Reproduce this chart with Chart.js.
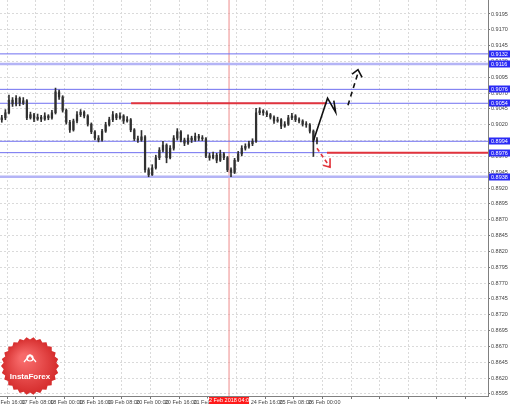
<!DOCTYPE html>
<html><head><meta charset="utf-8">
<script src="https://cdn.jsdelivr.net/npm/chart.js@4"></script>
<style>html,body{margin:0;padding:0;background:#fff;}#wrap{width:510px;height:404px;position:relative;}</style>
</head><body><div id="wrap"><canvas id="c"></canvas></div>
<script>
// ---- data (2-hour bars) ----
const openP = [0.9028,0.9031,0.9039,0.9059,0.9053,0.9062,0.9054,0.9058,0.9031,0.9036,
 0.9029,0.9032,0.9029,0.9034,0.9031,0.9039,0.9072,0.9064,0.9043,0.9024,
 0.9012,0.9026,0.9036,0.9040,0.9034,0.9021,0.9009,0.8999,0.8996,0.9010,
 0.9020,0.9028,0.9036,0.9031,0.9034,0.9026,0.9028,0.9012,0.8998,0.8996,
 0.9001,0.8949,0.8941,0.8952,0.8968,0.8980,0.8988,0.8968,0.8983,0.8999,
 0.9009,0.8996,0.8991,0.8999,0.8996,0.9002,0.8999,0.8998,0.8971,0.8968,
 0.8972,0.8964,0.8974,0.8968,0.8949,0.8945,0.8964,0.8974,0.8983,0.8986,
 0.8990,0.8994,0.9039,0.9042,0.9039,0.9036,0.9032,0.9026,0.9028,0.9018,
 0.9021,0.9031,0.9034,0.9028,0.9026,0.9021,0.9020,0.9010,0.8996];
const highP = [0.9035,0.9044,0.9067,0.9063,0.9066,0.9064,0.9063,0.9060,0.9040,0.9038,
 0.9037,0.9035,0.9039,0.9036,0.9043,0.9078,0.9075,0.9066,0.9045,0.9027,
 0.9029,0.9041,0.9044,0.9042,0.9036,0.9023,0.9011,0.9003,0.9013,0.9024,
 0.9032,0.9041,0.9038,0.9039,0.9036,0.9033,0.9030,0.9014,0.9002,0.9011,
 0.9003,0.8952,0.8957,0.8972,0.8984,0.8994,0.8990,0.8987,0.9003,0.9014,
 0.9011,0.8999,0.9004,0.9002,0.9007,0.9005,0.9003,0.9000,0.8975,0.8977,
 0.8975,0.8980,0.8976,0.8970,0.8952,0.8967,0.8978,0.8987,0.8990,0.8994,
 0.8998,0.9046,0.9047,0.9044,0.9042,0.9038,0.9034,0.9032,0.9030,0.9025,
 0.9035,0.9038,0.9036,0.9031,0.9028,0.9025,0.9022,0.9012,0.9000];
const lowP = [0.9024,0.9028,0.9037,0.9049,0.9050,0.9050,0.9052,0.9028,0.9029,0.9025,
 0.9027,0.9025,0.9027,0.9028,0.9029,0.9037,0.9060,0.9040,0.9021,0.9008,
 0.9010,0.9023,0.9033,0.9031,0.9018,0.9006,0.8996,0.8993,0.8994,0.9008,
 0.9018,0.9025,0.9028,0.9029,0.9022,0.9024,0.9009,0.8995,0.8992,0.8994,
 0.8945,0.8938,0.8940,0.8950,0.8965,0.8977,0.8960,0.8966,0.8980,0.8996,
 0.8993,0.8987,0.8989,0.8992,0.8994,0.8995,0.8995,0.8968,0.8964,0.8966,
 0.8960,0.8962,0.8965,0.8946,0.8938,0.8943,0.8962,0.8971,0.8980,0.8983,
 0.8987,0.8992,0.9036,0.9035,0.9033,0.9029,0.9022,0.9024,0.9014,0.9016,
 0.9019,0.9028,0.9025,0.9023,0.9018,0.9016,0.9007,0.8970,0.8990];
const closeP = [0.9031,0.9039,0.9059,0.9053,0.9062,0.9054,0.9058,0.9031,0.9036,0.9029,
 0.9032,0.9029,0.9034,0.9031,0.9039,0.9072,0.9064,0.9043,0.9024,0.9012,
 0.9026,0.9036,0.9040,0.9034,0.9021,0.9009,0.8999,0.8996,0.9010,0.9020,
 0.9028,0.9036,0.9031,0.9034,0.9026,0.9028,0.9012,0.8998,0.8996,0.9001,
 0.8949,0.8941,0.8952,0.8968,0.8980,0.8988,0.8968,0.8983,0.8999,0.9009,
 0.8996,0.8991,0.8999,0.8996,0.9002,0.8999,0.8998,0.8971,0.8968,0.8972,
 0.8964,0.8974,0.8968,0.8949,0.8945,0.8964,0.8974,0.8983,0.8986,0.8990,
 0.8994,0.9039,0.9042,0.9039,0.9036,0.9032,0.9026,0.9028,0.9018,0.9021,
 0.9031,0.9034,0.9028,0.9026,0.9021,0.9020,0.9010,0.8996,0.8994];
const barHours = 2;           // each bar covers 2 hours
const axisHours = [0, 272.5]; // visible time window (hours)

const xTickHours  = [-4,12,28,44,60,76,92,108,124,140,156,172,188,204,220,236,252,268];
const xTickLabels = ['16 Feb 16:00','17 Feb 08:00','18 Feb 00:00','18 Feb 16:00','19 Feb 08:00',
  '20 Feb 00:00','20 Feb 16:00','21 Feb 08:00','','24 Feb 16:00','25 Feb 08:00','26 Feb 00:00',
  '','','','','',''];
const cursorHour = 127.9;
const cursorLabel = '22 Feb 2018 04:00';

const yTickValues = [0.9195,0.9170,0.9145,0.9120,0.9095,0.9070,0.9045,0.9020,0.8995,0.8970,
  0.8945,0.8920,0.8895,0.8870,0.8845,0.8820,0.8795,0.8770,0.8745,0.8720,0.8695,0.8670,0.8645,0.8620,0.8595];
const yTickLabels = ['0.9195','0.9170','0.9145','0.9120','0.9095','0.9070','0.9045','0.9020','0.8995','0.8970',
  '0.8945','0.8920','0.8895','0.8870','0.8845','0.8820','0.8795','0.8770','0.8745','0.8720','0.8695','0.8670','0.8645','0.8620','0.8595'];
const yRange = [0.85917, 0.92171];

const blueLevels = [0.9132, 0.9076, 0.9054, 0.8994, 0.8976];
const blueWideLevels = [0.9116, 0.8938];
const levelTags = ['0.9132','0.9116','0.9076','0.9054','0.8994','0.8976','0.8938'];
const levelTagValues = [0.9132, 0.9116, 0.9076, 0.9054, 0.8994, 0.8976, 0.8938];

const redLevelA = {price: 0.9054, from: 73.2, to: 182.6};
const redLevelB = {price: 0.8976, from: 182.6, to: 272.5};

const bullPathX = [174.8, 182.9, 187.4, 186.4];
const bullPathY = [0.8993, 0.9062, 0.9040, 0.9058];
const bullDashX = [194.3, 199.9];
const bullDashY = [0.9051, 0.9102];
const bullHeadX = [196.6, 199.9, 202.2];
const bullHeadY = [0.9100, 0.9107, 0.9095];
const bearDashX = [177.0, 184.3];
const bearDashY = [0.8983, 0.8953];
const bearHeadX = [180.4, 184.3, 184.3];
const bearHeadY = [0.8956, 0.8953, 0.8967];

// ---- build datasets ----
const wickData = lowP.map((l,i)=>({x: i*barHours+1, y:[l, highP[i]]}));
const bodyData = openP.map((o,i)=>({x: i*barHours+1, y:[o, closeP[i]]}));
const pts = (xs, ys) => xs.map((x,i)=>({x, y: ys[i]}));
const hLine = (p, a, b) => [{x:a, y:p},{x:b, y:p}];

const lineBase = {type:'line', pointRadius:0, fill:false, tension:0, borderCapStyle:'butt'};
const datasets = [
  {type:'bar', data: wickData, backgroundColor:'#303030', barThickness:1, grouped:false, order:1, minBarLength:1},
  {type:'bar', data: bodyData, backgroundColor:'#3a3a3a', barThickness:1.6, grouped:false, order:1, minBarLength:1},
];
blueLevels.forEach(p=>datasets.push({...lineBase, data: hLine(p, axisHours[0], axisHours[1]), borderColor:'#6f6ff0', borderWidth:1, order:5}));
blueWideLevels.forEach(p=>datasets.push({...lineBase, data: hLine(p, axisHours[0], axisHours[1]), borderColor:'#b4b4f6', borderWidth:2.5, order:5}));
datasets.push({...lineBase, data: hLine(redLevelA.price, redLevelA.from, redLevelA.to), borderColor:'#e2343c', borderWidth:2, order:4});
datasets.push({...lineBase, data: hLine(redLevelB.price, redLevelB.from, redLevelB.to), borderColor:'#e2343c', borderWidth:2, order:4});
datasets.push({...lineBase, data: [{x:cursorHour,y:yRange[0]},{x:cursorHour,y:yRange[1]}], borderColor:'#ee8c8c', borderWidth:1, order:6});
datasets.push({...lineBase, data: pts(bullPathX,bullPathY), borderColor:'#111', borderWidth:1.6, order:0});
datasets.push({...lineBase, data: pts(bullDashX,bullDashY), borderColor:'#111', borderWidth:1.6, borderDash:[5,4], order:0});
datasets.push({...lineBase, data: pts(bullHeadX,bullHeadY), borderColor:'#111', borderWidth:1.6, order:0});
datasets.push({...lineBase, data: pts(bearDashX,bearDashY), borderColor:'#e2343c', borderWidth:1.6, borderDash:[4,3], order:0});
datasets.push({...lineBase, data: pts(bearHeadX,bearHeadY), borderColor:'#e2343c', borderWidth:1.6, order:0});

const FONT = 'Liberation Sans';

const overlay = {
  id:'overlay',
  afterDraw(chart){
    const ctx = chart.ctx, y = chart.scales.y, x = chart.scales.x, area = chart.chartArea;
    ctx.save();
    // level tags on price axis
    ctx.font = '5.5px "'+FONT+'"';
    ctx.textBaseline = 'middle';
    ctx.textAlign = 'left';
    levelTagValues.forEach((v,i)=>{
      const py = y.getPixelForValue(v);
      ctx.fillStyle = '#2a2af5';
      ctx.fillRect(area.right+1, Math.round(py)-3.5, 21, 7);
      ctx.fillStyle = '#ffffff';
      ctx.fillText(levelTags[i], area.right+3, py+0.5);
    });
    // cursor date box
    const cx = x.getPixelForValue(cursorHour);
    ctx.fillStyle = '#ff1a1a';
    ctx.fillRect(cx-20, area.bottom+1, 40, 7);
    ctx.fillStyle = '#ffffff';
    ctx.textAlign = 'center';
    ctx.fillText(cursorLabel, cx, area.bottom+4.5);
    // logo
    const lx = 30, ly = 366, R = 29, r = 26.5, n = 26;
    ctx.beginPath();
    for (let k=0;k<n*2;k++){
      const a = Math.PI*k/n, rr = k%2? r : R;
      const px = lx + rr*Math.cos(a), py2 = ly + rr*Math.sin(a);
      k? ctx.lineTo(px,py2) : ctx.moveTo(px,py2);
    }
    ctx.closePath();
    const g = ctx.createRadialGradient(lx-6, ly-8, 4, lx, ly, R);
    g.addColorStop(0,'#f76a6a'); g.addColorStop(1,'#d42a2a');
    ctx.fillStyle = g;
    ctx.fill();
    // icon
    ctx.strokeStyle = '#ffffff'; ctx.fillStyle = '#ffffff'; ctx.lineWidth = 1.2;
    ctx.beginPath(); ctx.arc(lx, ly-8, 3, 0, Math.PI*2); ctx.stroke();
    ctx.beginPath(); ctx.moveTo(lx-6, ly-4); ctx.lineTo(lx, ly-11); ctx.lineTo(lx+6, ly-4); ctx.stroke();
    ctx.font = 'bold 8px "'+FONT+'"';
    ctx.textAlign = 'center';
    ctx.fillText('InstaForex', lx, ly+11);
    ctx.restore();
  }
};

new Chart(document.getElementById('c'), {
  type:'bar',
  data:{datasets},
  plugins:[overlay],
  options:{
    responsive:true, maintainAspectRatio:false, animation:false,
    layout:{padding:0},
    plugins:{legend:{display:false}, tooltip:{enabled:false}},
    scales:{
      x:{
        type:'linear', min:axisHours[0], max:axisHours[1], offset:false,
        afterBuildTicks(s){ s.ticks = xTickHours.map(v=>({value:v})); },
        afterFit(s){ s.height = 8; s.paddingLeft = 0; s.paddingRight = 0; },
        ticks:{autoSkip:false, maxRotation:0, align:'start', padding:0, color:'#444',
          font:{family:FONT, size:5.5},
          callback:(v,i)=>xTickLabels[i]},
        grid:{color:'#dadada', lineWidth:1, tickLength:3, tickColor:'#777'},
        border:{display:true, color:'#808080', dash:[2,2]}
      },
      y:{
        type:'linear', position:'right', min:yRange[0], max:yRange[1],
        afterBuildTicks(s){ s.ticks = yTickValues.map(v=>({value:v})); },
        afterFit(s){ s.width = 22; s.paddingTop = 0; s.paddingBottom = 0; },
        ticks:{autoSkip:false, padding:1, color:'#444', font:{family:FONT, size:5.5},
          callback:(v,i)=>yTickLabels[i]},
        grid:{color:'#dadada', lineWidth:1, tickLength:2, tickColor:'#777'},
        border:{display:true, color:'#808080', dash:[2,2]}
      }
    }
  }
});
</script></body></html>
